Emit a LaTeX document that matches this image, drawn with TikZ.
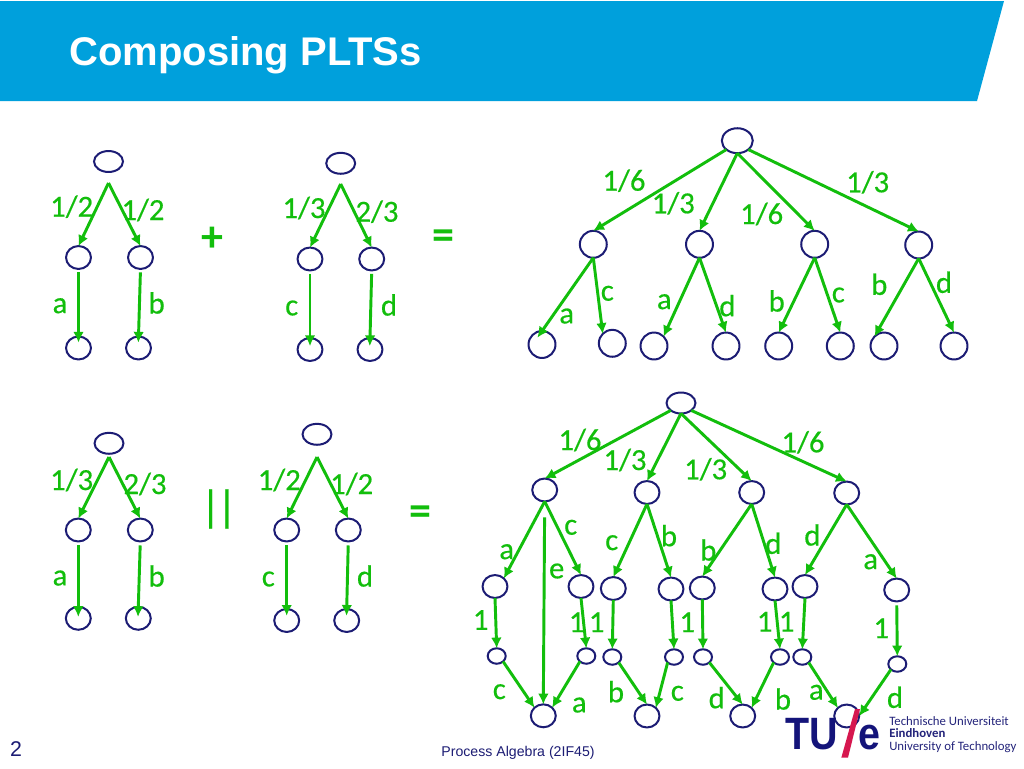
\documentclass[tikz,border=0pt]{standalone}
\usepackage{fontspec}
\setmainfont{Carlito}
\newfontfamily\labfont[FakeBold=0.4]{Carlito}
\newfontfamily\arialfont{Liberation Sans}
\newfontfamily\tufont[FakeStretch=0.87]{Liberation Sans}
\usetikzlibrary{positioning, shapes.geometric, arrows.meta}
\definecolor{barblue}{HTML}{00A0DC}
\definecolor{edgegreen}{HTML}{12BE0C}
\definecolor{statenavy}{HTML}{1C1C74}
\definecolor{logonavy}{HTML}{14147A}
\definecolor{logored}{HTML}{D6174F}

\begin{document}
\begin{tikzpicture}[
        x=.75pt, y=-.75pt,
        state/.style={ellipse, draw=statenavy, line width=1.5pt, inner sep=0pt, outer sep=0pt},
        rootstate/.style={state, minimum width=21.7pt, minimum height=15.7pt},
        midstate/.style={state, minimum width=18.7pt, minimum height=17.2pt},
        bigroot/.style={state, minimum width=23.2pt, minimum height=18.7pt},
        bigstate/.style={state, minimum width=20.2pt, minimum height=20.2pt},
        tinystate/.style={state, minimum width=13.5pt, minimum height=11.6pt},
        arrow/.style={-{Latex[length=8pt, width=8pt]}, draw=edgegreen, line width=2.2pt},
        lab/.style={text=edgegreen, inner sep=0pt, font=\labfont\fontsize{23}{25}\selectfont},
        opsign/.style={text=edgegreen, inner sep=0pt, font=\bfseries\fontsize{33}{35}\selectfont},
        logotext/.style={text=logonavy!85!gray, anchor=base west, inner sep=0pt, text height=6.4pt, text depth=1.6pt, font=\fontsize{9.6}{12}\selectfont}
        ]

        \path[fill=white] (0,0) rectangle (1024,768);
        \useasboundingbox (0,0) rectangle (1024,768);

        % title bar and footer
        \fill[barblue] (0,1) -- (1004,1) -- (977,101) -- (0,101) -- cycle;
        \node[text=white, anchor=base west, inner sep=0pt, font=\arialfont\bfseries\fontsize{30}{32}\selectfont] (title) at (69,65.5) {Composing PLTSs};
        \node[text=statenavy, inner sep=0pt, font=\arialfont\fontsize{16}{18}\selectfont] (pagenr) at (16,749) {2};
        \node[text=statenavy, inner sep=0pt, font=\arialfont\fontsize{10.6}{12}\selectfont] (course) at (518,752.5) {Process Algebra (2IF45)};

        % first summand
        \node[rootstate] (a0) at (108.5,161.5) {};
        \coordinate (atop) at (108.5,183);
        \node[midstate] (a1) at (78.5,257.5) {};
        \node[midstate] (a2) at (140.5,257.5) {};
        \node[midstate] (a3) at (78.5,348) {};
        \node[midstate] (a4) at (138.5,348) {};

        % second summand
        \node[rootstate] (b0) at (340.7,163.3) {};
        \coordinate (btop) at (340.7,184);
        \node[midstate] (b1) at (310,259) {};
        \node[midstate] (b2) at (371.7,259) {};
        \node[midstate] (b3) at (310,349.5) {};
        \node[midstate] (b4) at (370,349.5) {};

        % sum
        \node[bigroot] (e0) at (737.3,140.7) {};
        \node[bigstate] (e1) at (593.3,244.3) {};
        \node[bigstate] (e2) at (699.5,244.3) {};
        \node[bigstate] (e3) at (814.7,244.3) {};
        \node[bigstate] (e4) at (918.7,245) {};
        \node[bigstate] (e5) at (542,344.5) {};
        \node[bigstate] (e6) at (612.3,343.3) {};
        \node[bigstate] (e7) at (654,346) {};
        \node[bigstate] (e8) at (726,346) {};
        \node[bigstate] (e9) at (778.7,346) {};
        \node[bigstate] (e10) at (840.3,346) {};
        \node[bigstate] (e11) at (884,346) {};
        \node[bigstate] (e12) at (954,346) {};

        % first operand
        \node[rootstate] (c0) at (109,443.3) {};
        \coordinate (ctop) at (109,457);
        \node[midstate] (c1) at (78.3,530) {};
        \node[midstate] (c2) at (140.3,530) {};
        \node[midstate] (c3) at (78.3,618.3) {};
        \node[midstate] (c4) at (138.3,618.3) {};

        % second operand
        \node[rootstate] (d0) at (317,434.3) {};
        \coordinate (dtop) at (317,457);
        \node[midstate] (d1) at (286.7,530) {};
        \node[midstate] (d2) at (348.3,530) {};
        \node[midstate] (d3) at (286.7,620.5) {};
        \node[midstate] (d4) at (346.7,620.5) {};

        % parallel composition
        \node[rootstate] (f0) at (681,403) {};
        \node[midstate] (f1) at (544.7,490) {};
        \node[midstate] (f2) at (647,492.5) {};
        \node[midstate] (f3) at (751.7,492.5) {};
        \node[midstate] (f4) at (846.7,493) {};
        \node[midstate] (g1) at (495,586.5) {};
        \node[midstate] (g2) at (581,586.5) {};
        \node[midstate] (g3) at (613.3,588.5) {};
        \node[midstate] (g4) at (671,589) {};
        \node[midstate] (g5) at (702.3,588) {};
        \node[midstate] (g6) at (775,589) {};
        \node[midstate] (g7) at (805,586.5) {};
        \node[midstate] (g8) at (896.7,590) {};
        \node[tinystate] (h1) at (496.7,656) {};
        \node[tinystate] (h2) at (586.3,656) {};
        \node[tinystate] (h3) at (612.3,657) {};
        \node[tinystate] (h4) at (674,657) {};
        \node[tinystate] (h5) at (703,657) {};
        \node[tinystate] (h6) at (780,657) {};
        \node[tinystate] (h7) at (802.3,657) {};
        \node[tinystate] (h8) at (897.3,664) {};
        \node[midstate] (i1) at (543.3,715.8) {};
        \node[midstate] (i2) at (647,716) {};
        \node[midstate] (i3) at (742.7,716) {};
        \node[midstate] (i4) at (846.7,716) {};

        \draw[arrow] (atop) -- (a1.north);
        \draw[arrow] (atop) -- (a2.north);
        \draw[arrow, shorten <=2.5pt, shorten >=-4.5pt] (a1.south) -- (a3.north);
        \draw[arrow, shorten <=2.5pt, shorten >=-4.5pt] (a2.south) -- (a4.north);

        \draw[arrow] (btop) -- (b1.north);
        \draw[arrow] (btop) -- (b2.north);
        \draw[arrow, shorten <=2.5pt, shorten >=-6pt] (b1.south) -- (b3.north);
        \draw[arrow, shorten <=2.5pt, shorten >=-6pt] (b2.south) -- (b4.north);

        \draw[arrow] (e0.south west) -- (e1.north);
        \draw[arrow] (e0.south) -- (e2.north);
        \draw[arrow] (e0.south) -- (e3.north);
        \draw[arrow] (e0.south east) -- (e4.north);
        \draw[arrow, shorten >=-6pt] (e1.south) -- (e5.north);
        \draw[arrow] (e1.south) -- (e6.north west);
        \draw[arrow] (e2.south) -- (e7.north east);
        \draw[arrow] (e2.south) -- (e8.north);
        \draw[arrow] (e3.south) -- (e9.north);
        \draw[arrow] (e3.south) -- (e10.north);
        \draw[arrow] (e4.south) -- (e11.north west);
        \draw[arrow] (e4.south) -- (e12.north);

        \draw[arrow] (ctop) -- (c1.north);
        \draw[arrow] (ctop) -- (c2.north);
        \draw[arrow, shorten <=3pt, shorten >=-7.5pt] (c1.south) -- (c3.north);
        \draw[arrow, shorten <=3pt, shorten >=-7.5pt] (c2.south) -- (c4.north);

        \draw[arrow] (dtop) -- (d1.north);
        \draw[arrow] (dtop) -- (d2.north);
        \draw[arrow, shorten <=3pt, shorten >=-5pt] (d1.south) -- (d3.north);
        \draw[arrow, shorten <=3pt, shorten >=-5pt] (d2.south) -- (d4.north);

        \draw[arrow] (f0.south west) -- (f1.north);
        \draw[arrow] (f0.south) -- (f2.north);
        \draw[arrow] (f0.south) -- (f3.north);
        \draw[arrow] (f0.south east) -- (f4.north);
        \draw[arrow] (f1.south) -- (g1.north east);
        \draw[arrow, shorten <=12pt] (f1.south) -- (i1.north);
        \draw[arrow] (f1.south) -- (g2.north);
        \draw[arrow] (f2.south) -- (g3.north);
        \draw[arrow] (f2.south) -- (g4.north);
        \draw[arrow] (f3.south) -- (g5.north);
        \draw[arrow] (f3.south) -- (g6.north);
        \draw[arrow] (f4.south) -- (g7.north);
        \draw[arrow] (f4.south) -- (g8.north);
        \draw[arrow] (g1.south) -- (h1.north);
        \draw[arrow] (g2.south) -- (h2.north);
        \draw[arrow] (g3.south) -- (h3.north);
        \draw[arrow] (g4.south) -- (h4.north);
        \draw[arrow] (g5.south) -- (h5.north);
        \draw[arrow] (g6.south) -- (h6.north);
        \draw[arrow] (g7.south) -- (h7.north);
        \draw[arrow, shorten <=3pt] (g8.south) -- (h8.north);
        \draw[arrow] (h1.south east) -- (i1.north west);
        \draw[arrow] (h2.south west) -- (i1.north east);
        \draw[arrow] (h3.south east) -- (i2.north);
        \draw[arrow] (h4.south west) -- (i2.north east);
        \draw[arrow] (h5.south east) -- (i3.north);
        \draw[arrow] (h6.south west) -- (i3.north east);
        \draw[arrow] (h7.south east) -- (i4.north west);
        \draw[arrow] (h8.south west) -- (i4.east);

        % labels of the first row
        \node[lab] (la1) at (71.7,206.7) {1/2};
        \node[lab] (la2) at (143,210) {1/2};
        \node[lab] (la3) at (60,305.7) {a};
        \node[lab] (la4) at (156.7,303) {b};
        \node[opsign] (plus) at (212.7,239) {+};
        \node[lab] (lb1) at (304,208) {1/3};
        \node[lab] (lb2) at (377,211.7) {2/3};
        \node[lab] (lb3) at (291.7,308) {c};
        \node[lab] (lb4) at (389,305) {d};
        \node[opsign] (eqtop) at (443,240) {=};
        \node[lab] (le1) at (624,180.7) {1/6};
        \node[lab] (le2) at (673.3,203.3) {1/3};
        \node[lab] (le3) at (761.7,214) {1/6};
        \node[lab] (le4) at (867.7,182.3) {1/3};
        \node[lab] (le5) at (566.7,316) {a};
        \node[lab] (le6) at (607.3,293.3) {c};
        \node[lab] (le7) at (664.3,301.7) {a};
        \node[lab] (le8) at (727.3,305.7) {d};
        \node[lab] (le9) at (776.7,301) {b};
        \node[lab] (le10) at (838.3,295) {c};
        \node[lab] (le11) at (879.3,284.3) {b};
        \node[lab] (le12) at (944,282.3) {d};

        % labels of the second row
        \node[lab] (lc1) at (71.7,480) {1/3};
        \node[lab] (lc2) at (145,484) {2/3};
        \node[lab] (lc3) at (60,578) {a};
        \node[lab] (lc4) at (156.7,576) {b};
        \node[lab, font=\labfont\fontsize{33}{35}\selectfont] (parallel) at (218.8,509) {|\kern-3pt|};
        \node[lab] (ld1) at (279.3,480) {1/2};
        \node[lab] (ld2) at (351.7,484) {1/2};
        \node[lab] (ld3) at (268.3,579) {c};
        \node[lab] (ld4) at (365,576) {d};
        \node[opsign] (eqbot) at (420.7,516) {=};
        \node[lab] (lf1) at (580,440) {1/6};
        \node[lab] (lf2) at (625,460) {1/3};
        \node[lab] (lf3) at (705.7,469.3) {1/3};
        \node[lab] (lf4) at (803,442.3) {1/6};
        \node[lab] (lg1) at (506.7,551.7) {a};
        \node[lab] (lg2) at (570.7,527.3) {c};
        \node[lab] (lg3) at (556.7,571) {e};
        \node[lab] (lg4) at (611.7,542.7) {c};
        \node[lab] (lg5) at (669,535.7) {b};
        \node[lab] (lg6) at (708.3,550) {b};
        \node[lab] (lg7) at (773.3,543.3) {d};
        \node[lab] (lg8) at (812.3,535) {d};
        \node[lab] (lg9) at (870.7,561.7) {a};
        \node[lab] (lh1) at (480.7,620) {1};
        \node[lab] (lh2) at (576.7,622.3) {1};
        \node[lab] (lh3) at (596.7,622.3) {1};
        \node[lab] (lh4) at (687.3,622.3) {1};
        \node[lab] (lh5) at (764.7,621.7) {1};
        \node[lab] (lh6) at (786.7,621.7) {1};
        \node[lab] (lh7) at (881.3,628.3) {1};
        \node[lab] (li1) at (499.3,691.7) {c};
        \node[lab] (li2) at (579.3,705) {a};
        \node[lab] (li3) at (616,691.7) {b};
        \node[lab] (li4) at (677.3,693.3) {c};
        \node[lab] (li5) at (716.7,697.7) {d};
        \node[lab] (li6) at (783,699) {b};
        \node[lab] (li7) at (816.3,692.3) {a};
        \node[lab] (li8) at (895,697.3) {d};

        % logo
        \node[text=logonavy, anchor=base west, inner sep=0pt, font=\tufont\bfseries\fontsize{34}{36}\selectfont] (logotu) at (785,749) {TU};
        \fill[logored] (855,709) -- (860,709) -- (848,757.7) -- (841.3,757.7) -- cycle;
        \node[text=logonavy, anchor=base west, inner sep=0pt, font=\tufont\bfseries\fontsize{34}{36}\selectfont] (logoe) at (858,749) {e};
        \node[logotext] (logo1) at (889,725) {Technische Universiteit};
        \node[logotext, font=\bfseries\fontsize{9.6}{12}\selectfont] (logo2) at (889,737.5) {Eindhoven};
        \node[logotext] (logo3) at (889,750.5) {University of Technology};
\end{tikzpicture}
\end{document}
